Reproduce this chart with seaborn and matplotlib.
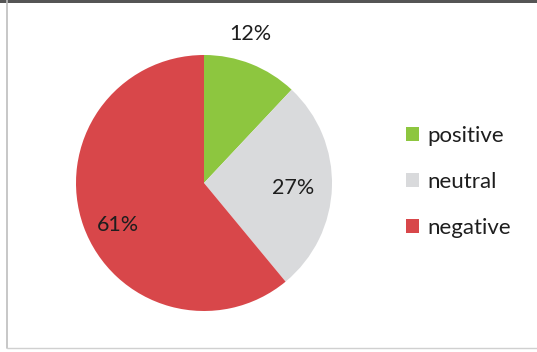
import numpy as np
import matplotlib
matplotlib.use("Agg")
import matplotlib.pyplot as plt
from matplotlib.patches import Rectangle
from matplotlib.lines import Line2D
import seaborn as sns

categories = ["positive", "neutral", "negative"]
shares = [12, 27, 61]
colors = ["#8DC63F", "#D9DADC", "#D8474A"]

sns.set_theme(style="white")
plt.rcParams["font.family"] = ["Lato", "DejaVu Sans"]

W, H = 537, 352
fig = plt.figure(figsize=(W / 100, H / 100), dpi=100)
fig.patch.set_facecolor("white")

# chart area frame: left and bottom rules, dark strip along the top
fig.add_artist(Line2D([6.5 / W, 6.5 / W], [1 - 348 / H, 1], transform=fig.transFigure,
                      color="#BDBDBD", linewidth=1.2))
fig.add_artist(Line2D([6.5 / W, 1], [1 - 348 / H, 1 - 348 / H], transform=fig.transFigure,
                      color="#D0D0D0", linewidth=1.0))
fig.add_artist(Rectangle((0, 1 - 3 / H), 1, 3 / H, transform=fig.transFigure,
                         facecolor="#555555", edgecolor="none"))

cx, cy, r = 204, 183, 128
ax = fig.add_axes([(cx - r) / W, 1 - (cy + r) / H, 2 * r / W, 2 * r / H])

wedges, _ = ax.pie(shares, colors=colors, startangle=90, counterclock=False,
                   radius=1.0, wedgeprops=dict(linewidth=0))
ax.set_xlim(-1, 1)
ax.set_ylim(-1, 1)
ax.set_aspect("equal")
ax.axis("off")

# percentage labels at wedge mid-angles
total = sum(shares)
start = 90.0
dists = [1.20, 0.70, 0.76]
nudges = [(-10, 6), (0, -2), (5, -9)]
for val, d, (ox, oy) in zip(shares, dists, nudges):
    sweep = val / total * 360
    mid = np.deg2rad(start - sweep / 2)
    ax.annotate(f"{val}%", (d * np.cos(mid), d * np.sin(mid)),
                xytext=(ox, oy), textcoords="offset pixels",
                ha="center", va="center", fontsize=15.5, color="#1E1E1E",
                annotation_clip=False)
    start -= sweep

leg = fig.legend(wedges, categories, loc="center left",
                 bbox_to_anchor=(406 / W, 1 - 182 / H), frameon=False,
                 fontsize=16, handlelength=0.6, handleheight=0.6,
                 handletextpad=0.35, labelspacing=1.17, borderaxespad=0,
                 borderpad=0)
for t in leg.get_texts():
    t.set_color("#1E1E1E")

fig.savefig("out.png", dpi=100, facecolor="white")
